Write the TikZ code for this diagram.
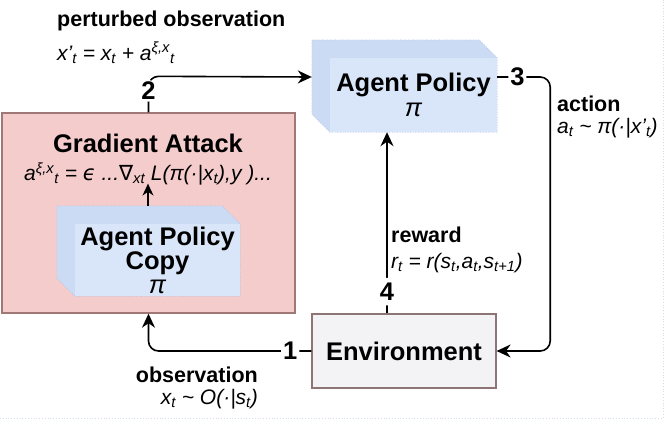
\documentclass[tikz,border=0pt]{standalone}
\usepackage{fontspec}
\setmainfont{Liberation Sans}
\newfontfamily\symfont{DejaVu Sans}
\usetikzlibrary{arrows.meta, calc, positioning}
\definecolor{ATKpink}{HTML}{F4CCCC}
\definecolor{ATKedge}{HTML}{A07878}
\definecolor{POLblue}{HTML}{CBDBF4}
\definecolor{POLface}{HTML}{D9E5F8}
\definecolor{POLedge}{HTML}{A9BBDA}
\definecolor{ENVgray}{HTML}{F3F3F5}
\definecolor{ENVedge}{HTML}{8E7474}
\definecolor{PAGEedge}{HTML}{D3DDF1}
\newcommand{\subx}[1]{\textsubscript{#1}}
\newcommand{\supx}[1]{\textsuperscript{#1}}
\pgfdeclarelayer{boxlayer}
\pgfdeclarelayer{cubelayer}
\pgfsetlayers{boxlayer,cubelayer,main}

\begin{document}
\begin{tikzpicture}[x=1pt, y=-1pt,
    bigtext/.style={font=\fontsize{25.5}{23}\selectfont\bfseries, align=center, inner sep=0pt},
    lbltext/.style={font=\fontsize{21.5}{24}\selectfont\bfseries, inner sep=0pt},
    fmltext/.style={font=\fontsize{21}{24}\selectfont\itshape, inner sep=0pt},
    stepnum/.style={font=\fontsize{25.5}{28}\selectfont\bfseries, fill=white, inner sep=2pt},
    flow/.style={line width=1.6pt, -{Stealth[length=14pt,width=13pt]}, rounded corners=10pt},
    cubeface/.style={fill=POLface, minimum width=#1, minimum height=74pt},
  ]
  \useasboundingbox (0,0) rectangle (665,421);
  % page edges
  \draw[PAGEedge, dotted, line width=0.8pt] (0,418) -- (663,418) -- (663,0);

  % Gradient attack box
  \begin{pgfonlayer}{boxlayer}
    \node[draw=ATKedge, fill=ATKpink, line width=1.4pt, minimum width=293pt, minimum height=200pt] (attack) at (148.5,213) {};
  \end{pgfonlayer}
  \node[bigtext] (atktitle) at (148,143) {Gradient Attack};
  \node[fmltext] (atkfml) at (148,174) {a\supx{ξ,x}\subx{t} = {\symfont ϵ} ...{\symfont ∇}\subx{xt} L(π(·|x\subx{t}),y )...};

  % policy copy and policy (cubes)
  \node[bigtext, cubeface=165pt, minimum height=72pt] (copy) at (157.5,260) {Agent Policy\\Copy\\[1pt]{\mdseries\itshape π}};
  \node[bigtext, cubeface=167pt] (policy) at (413.5,95) {Agent Policy\\[2pt]{\mdseries\itshape π}};
  \begin{pgfonlayer}{cubelayer}
    \foreach \c in {copy, policy}{
      \filldraw[fill=POLblue, draw=POLedge, line width=0.6pt, dotted]
        ($(\c.north west)+(-18,-18)$) -- ($(\c.north east)+(-18,-18)$) -- (\c.north east)
        -- (\c.south east) -- (\c.south west) -- ($(\c.south west)+(-18,-18)$) -- cycle;
    }
  \end{pgfonlayer}
  \coordinate (policyback) at ($(policy.west)+(-18,-18)$);
  \coordinate (policyout) at ($(policy.east)+(0,-18)$);

  % Environment
  \node[draw=ENVedge, fill=ENVgray, line width=1.2pt, minimum width=184pt, minimum height=74pt,
        font=\fontsize{25.5}{28}\selectfont\bfseries] (env) at (404,351) {Environment};

  % inner arrow copy -> formula
  \draw[line width=1.6pt, -{Stealth[length=12pt,width=11pt]}] ([yshift=18pt]copy.north -| atkfml) -- ([yshift=2pt]atkfml.south);

  % loop
  \draw[flow] (env.west) -- node[stepnum, pos=0.13] (n1) {1} (attack.south |- env.west) -- (attack.south);
  \draw[flow] (attack.north) -- node[stepnum, pos=0.6] (n2) {2} ++(0,-36) -- (policyback);
  \draw[flow] (policyout) -- node[stepnum, pos=0.38] (n3) {3} ++(53,0) |- (env.east);
  \draw[flow] ([xshift=-17pt]env.north) -- node[stepnum, pos=0.12, inner sep=5pt] (n4) {4} ([xshift=-17pt]env.north |- policy.south);

  % labels
  \node[lbltext, anchor=west] (pertlbl) at (57,21) {perturbed observation};
  \node[fmltext, anchor=west] (pertfml) at (57,53) {x'\subx{t} = x\subx{t} + a\supx{ξ,x}\subx{t}};
  \node[lbltext, anchor=west] (actlbl) at (557,104) {action};
  \node[fmltext, anchor=west] (actfml) at (557,128) {a\subx{t} \textasciitilde{} π(·|x'\subx{t})};
  \node[lbltext, anchor=west] (rwdlbl) at (391,235) {reward};
  \node[fmltext, anchor=west] (rwdfml) at (391,263) {r\subx{t} = r(s\subx{t},a\subx{t},s\subx{t+1})};
  \node[lbltext, anchor=east] (obslbl) at (258,375) {observation};
  \node[fmltext, anchor=east] (obsfml) at (258,399) {x\subx{t} \textasciitilde{} O(·|s\subx{t})};
\end{tikzpicture}
\end{document}
